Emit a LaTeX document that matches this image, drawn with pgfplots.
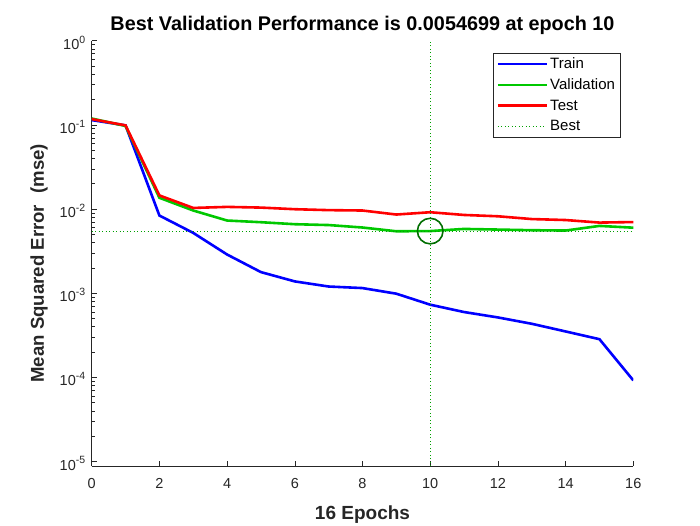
\documentclass[border=0pt]{standalone}
\usepackage{fontspec}
\setmainfont{Liberation Sans}
\usepackage{pgfplots}
\pgfplotsset{compat=1.18}
\definecolor{valgreen}{RGB}{0,200,0}
\definecolor{bestgreen}{RGB}{0,160,0}
\definecolor{circgreen}{RGB}{0,110,0}
\newcommand{\tp}[1]{10\raisebox{0.42em}{\fontsize{10.5}{11}\selectfont #1}}
\begin{document}
\begin{tikzpicture}[x=1pt,y=1pt]
\useasboundingbox (-91.7,-59) rectangle (608.3,466);
\begin{axis}[
  at={(0,0)}, anchor=south west,
  width=541.6pt, height=425.3pt, scale only axis,
  xmin=0, xmax=16, ymode=log, ymin=8.84e-6, ymax=1,
  axis x line*=bottom, axis y line*=left,
  axis line style={-, black!85, line width=0.6pt},
  tick align=inside,
  major tick length=5pt, minor tick length=3pt,
  every tick/.style={black!85, line width=0.6pt},
  xtick={0,2,...,16},
  ytick={1e-5,1e-4,1e-3,1e-2,1e-1,1},
  yticklabels={\tp{-5},\tp{-4},\tp{-3},\tp{-2},\tp{-1},\tp{0}},
  xticklabel style={font=\fontsize{14.5}{17}\selectfont, text=black!85, yshift=-9pt},
  yticklabel style={font=\fontsize{14.5}{17}\selectfont, text=black!85, xshift=-3pt, yshift=-2pt},
  /pgf/number format/assume math mode=true,
  title={Best Validation Performance is 0.0054699 at epoch 10},
  title style={font=\fontsize{19.8}{22}\selectfont\bfseries, yshift=-3pt},
  xlabel={16 Epochs},
  ylabel={Mean Squared Error\hspace{0.6em}(mse)},
  label style={font=\fontsize{19}{22}\selectfont\bfseries, text=black!85},
  xlabel style={yshift=-10pt},
  ylabel style={font=\fontsize{18.6}{22}\selectfont\bfseries, yshift=5pt, xshift=-10pt},
  legend style={at={(1,1)}, anchor=north east, xshift=-13pt, yshift=-12pt,
    font=\fontsize{15}{17}\selectfont, draw=black!85, line width=0.6pt,
    row sep=4.5pt, inner sep=3pt},
  legend cell align=left,
  legend image code/.code={\draw[#1] (0pt,0pt) -- (49pt,0pt);},
]
\addplot[blue, line width=2.6pt] coordinates {
(0,0.114) (1,0.0986) (2,0.00837) (3,0.0052) (4,0.00288) (5,0.00178) (6,0.00138) (7,0.0012) (8,0.00115) (9,0.000986) (10,0.00073) (11,0.000597) (12,0.000515) (13,0.000433) (14,0.000351) (15,0.000284) (16,9.2e-5)};
\addlegendentry{Train}
\addplot[valgreen, line width=2.6pt] coordinates {
(0,0.119) (1,0.097) (2,0.0136) (3,0.0096) (4,0.0073) (5,0.00697) (6,0.0066) (7,0.00645) (8,0.00603) (9,0.00544) (10,0.0054699) (11,0.0058) (12,0.0057) (13,0.0056) (14,0.00555) (15,0.0063) (16,0.0060)};
\addlegendentry{Validation}
\addplot[red, line width=2.6pt] coordinates {
(0,0.117) (1,0.0986) (2,0.0145) (3,0.0103) (4,0.0106) (5,0.0104) (6,0.00995) (7,0.0097) (8,0.0096) (9,0.0086) (10,0.00916) (11,0.0085) (12,0.0082) (13,0.0076) (14,0.0074) (15,0.0069) (16,0.0070)};
\addlegendentry{Test}
\addplot[bestgreen, line width=0.7pt, dash pattern=on 1pt off 2.5pt] coordinates {(0,0.0054699) (16,0.0054699)};
\addlegendentry{Best}
\addplot[bestgreen, line width=0.7pt, dash pattern=on 1pt off 2.5pt, forget plot] coordinates {(10,8.84e-6) (10,1)};
\addplot[circgreen, only marks, mark=o, mark size=12.8pt, mark options={line width=1.6pt}, forget plot] coordinates {(10,0.0054699)};
\end{axis}
\end{tikzpicture}
\end{document}
